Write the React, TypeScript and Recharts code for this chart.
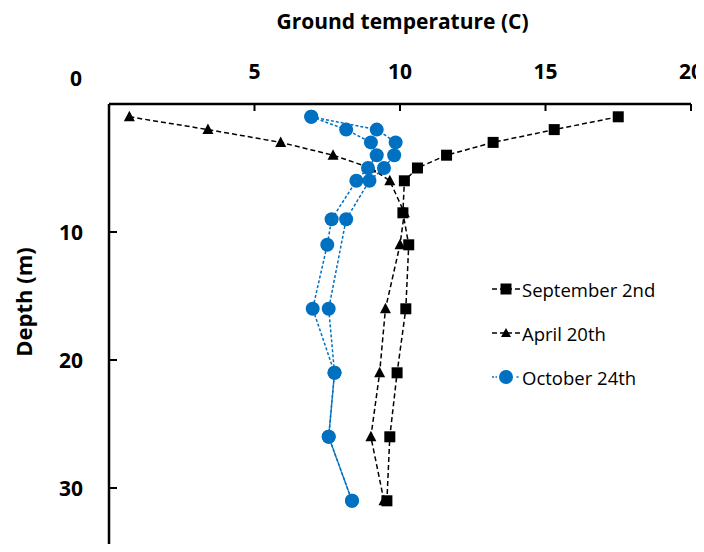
import React from "react";
import { ScatterChart, Scatter, XAxis, YAxis } from "recharts";

// depth (m) and ground temperature (C)
const sepDepth = [1, 2, 3, 4, 5, 6, 8.5, 11, 16, 21, 26, 31];
const sepTemp = [17.5, 15.3, 13.2, 11.6, 10.6, 10.15, 10.1, 10.3, 10.2, 9.9, 9.65, 9.55];

const aprDepth = [1, 2, 3, 4, 5, 6, 8.5, 11, 16, 21, 26, 31];
const aprTemp = [0.7, 3.4, 5.9, 7.7, 9.0, 9.65, 10.15, 10.0, 9.5, 9.3, 9.0, 9.45];

const octDepth = [1, 2, 3, 4, 5, 6, 9, 11, 16, 21, 26, 31];
const octTemp = [6.95, 8.15, 9.0, 9.2, 8.9, 8.5, 7.65, 7.5, 7.0, 7.75, 7.55, 8.35];

// second October profile (no legend entry)
const oct2Depth = [1, 2, 3, 4, 5, 6, 9, 16, 21, 26, 31];
const oct2Temp = [6.95, 9.2, 9.85, 9.8, 9.45, 8.95, 8.15, 7.55, 7.75, 7.55, 8.35];

const tempTicks = [0, 5, 10, 15, 20];
const depthTicks = [0, 10, 20, 30];
const legendNames = ["September 2nd", "April 20th", "October 24th"];

const BLUE = "#0070C0";
const FONT = "'Open Sans', Lato, sans-serif";

const toPoints = (depth: number[], temp: number[]) =>
  depth.map((d, i) => ({ t: temp[i], d }));

const sep = toPoints(sepDepth, sepTemp);
const apr = toPoints(aprDepth, aprTemp);
const oct = toPoints(octDepth, octTemp);
const oct2 = toPoints(oct2Depth, oct2Temp);

const Square = (p: any) => <rect x={p.cx - 5.5} y={p.cy - 5.5} width={11} height={11} fill="#000" />;
const Triangle = (p: any) => (
  <path d={`M${p.cx},${p.cy - 6}L${p.cx + 5.5},${p.cy + 4.5}L${p.cx - 5.5},${p.cy + 4.5}Z`} fill="#000" />
);
const Dot = (p: any) => <circle cx={p.cx} cy={p.cy} r={7} fill={BLUE} />;

const tickText = { fontFamily: FONT, fontWeight: "bold" as const, fontSize: 21, fill: "#000" };

const XTick = (p: any) => {
  const v = p.payload.value;
  if (v === 0) return <g />;
  return (
    <g>
      <line x1={p.x} y1={p.y} x2={p.x} y2={p.y + 7} stroke="#000" strokeWidth={2} />
      <text x={p.x} y={p.y - 33} textAnchor="middle" dominantBaseline="central" {...tickText}>{v}</text>
    </g>
  );
};

const YTick = (p: any) => {
  const v = p.payload.value;
  if (v === 0) {
    return (
      <text x={p.x - 27} y={p.y - 26} textAnchor="end" dominantBaseline="central" {...tickText}>{v}</text>
    );
  }
  return (
    <g>
      <line x1={p.x} y1={p.y} x2={p.x + 8} y2={p.y} stroke="#000" strokeWidth={2} />
      <text x={p.x - 26} y={p.y} textAnchor="end" dominantBaseline="central" {...tickText}>{v}</text>
    </g>
  );
};

const legendIcon = (name: string) => {
  const blue = name.startsWith("October");
  const c = blue ? BLUE : "#000";
  const dash = blue ? "2 1.5" : undefined;
  let mark;
  if (name.startsWith("September")) mark = <rect x={8.5} y={3.5} width={11} height={11} fill="#000" />;
  else if (name.startsWith("April")) mark = <path d="M14,4L19,13L9,13Z" fill="#000" />;
  else mark = <circle cx={14} cy={9} r={7} fill={BLUE} />;
  return (
    <svg width={28} height={18} style={{ display: "block" }}>
      <line x1={0} y1={9} x2={28} y2={9} stroke={c} strokeWidth={1.5} strokeDasharray={dash} />
      <rect x={5} y={0} width={3} height={18} fill="#fff" />
      <rect x={20} y={0} width={3} height={18} fill="#fff" />
      {mark}
    </svg>
  );
};

export default function App() {
  return (
    <div style={{ position: "relative", width: 696, height: 536, overflow: "hidden" }}>
      <div style={{ position: "absolute", left: 394.5, top: 13, width: 0, height: 0 }}>
        <div style={{ position: "absolute", transform: "translate(-50%, -50%)", whiteSpace: "nowrap",
          fontFamily: FONT, fontWeight: "bold", fontSize: 21 }}>
          Ground temperature (C)
        </div>
      </div>
      <div style={{ position: "absolute", left: 14.5, top: 293.5, width: 0, height: 0 }}>
        <div style={{ position: "absolute", transform: "translate(-50%, -50%) rotate(-90deg)",
          whiteSpace: "nowrap", fontFamily: FONT, fontWeight: "bold", fontSize: 22 }}>
          Depth (m)
        </div>
      </div>
      <ScatterChart width={696} height={544} margin={{ top: 66, right: 13, bottom: 0, left: 0 }}>
        <XAxis type="number" dataKey="t" orientation="top" domain={[0, 20]} ticks={tempTicks}
          height={30} tickSize={0} tickMargin={0} tick={<XTick />} interval={0}
          axisLine={{ stroke: "#000", strokeWidth: 2.5 }} />
        <YAxis yAxisId="d" type="number" dataKey="d" reversed domain={[0, 35]} ticks={depthTicks}
          width={101} tickSize={0} tickMargin={0} tick={<YTick />} interval={0}
          axisLine={{ stroke: "#000", strokeWidth: 2.5 }} />
        <YAxis yAxisId="r" type="number" dataKey="d" orientation="right" reversed domain={[0, 35]}
          width={0} tick={false} tickLine={false} axisLine={{ stroke: "#000", strokeWidth: 2.5 }} />
        <Scatter yAxisId="d" name="September 2nd" data={sep} shape={Square} isAnimationActive={false}
          line={{ stroke: "#000", strokeWidth: 1.5, strokeDasharray: "5 3" }} />
        <Scatter yAxisId="d" name="April 20th" data={apr} shape={Triangle} isAnimationActive={false}
          line={{ stroke: "#000", strokeWidth: 1.5, strokeDasharray: "5 3" }} />
        <Scatter yAxisId="d" name="October 24th" data={oct} shape={Dot} isAnimationActive={false}
          line={{ stroke: BLUE, strokeWidth: 1.5, strokeDasharray: "3 2" }} />
        <Scatter yAxisId="d" name="October 24th (b)" legendType="none" data={oct2} shape={Dot}
          isAnimationActive={false} line={{ stroke: BLUE, strokeWidth: 1.5, strokeDasharray: "3 2" }} />
      </ScatterChart>
      <div style={{ position: "absolute", left: 484, top: 259, fontFamily: FONT, fontSize: 18.5, color: "#000" }}>
        {legendNames.map((n) => (
          <div key={n} style={{ display: "flex", alignItems: "center", height: 44, whiteSpace: "nowrap" }}>
            {legendIcon(n)}
            <span style={{ marginLeft: 2 }}>{n}</span>
          </div>
        ))}
      </div>
    </div>
  );
}
